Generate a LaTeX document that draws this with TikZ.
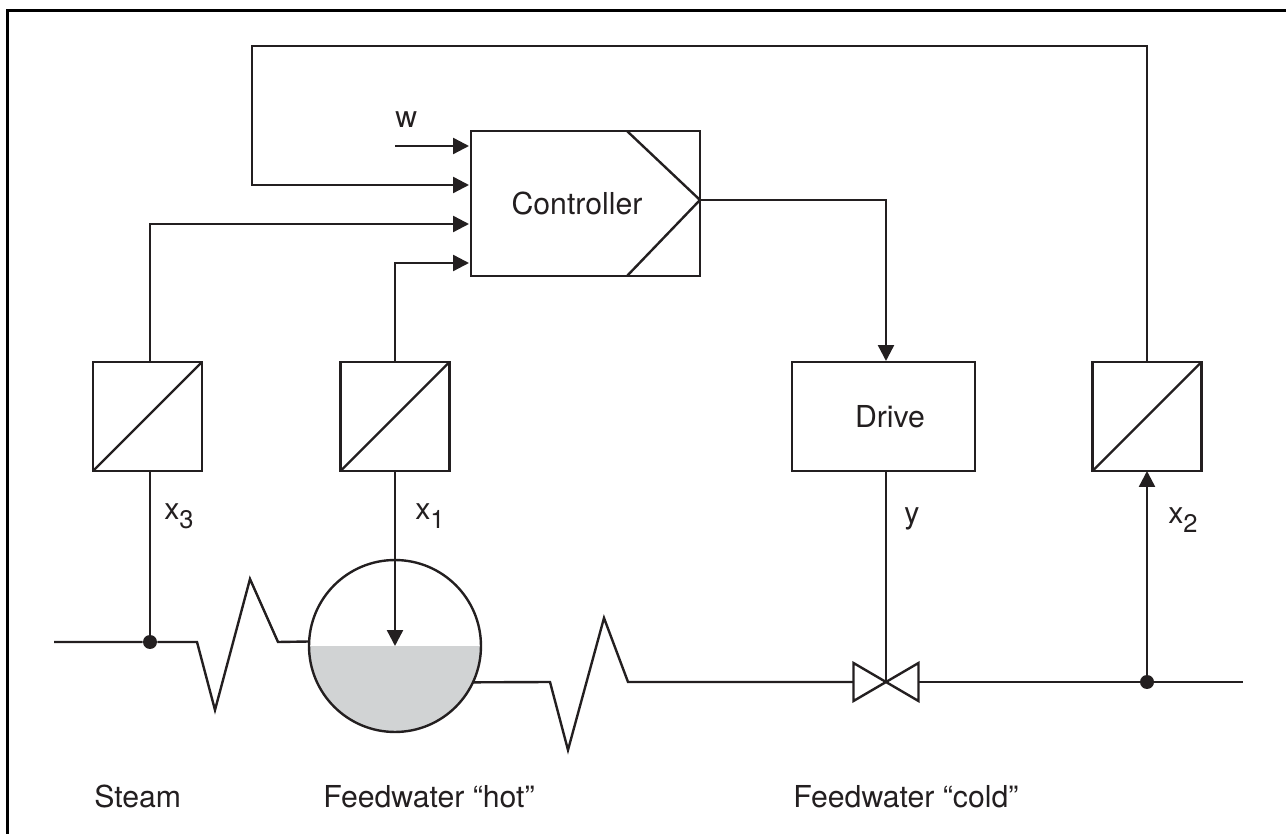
\documentclass[tikz,border=0pt]{standalone}
\usepackage{fontspec}
\setmainfont{TeX Gyre Heros}
\usetikzlibrary{
    arrows.meta,
    positioning
}

\definecolor{inkblack}{RGB}{35,31,32}
\definecolor{watergrey}{RGB}{209,211,212}

\newcommand{\subx}[1]{x\raisebox{-5pt}{\fontsize{14.5}{16}\selectfont #1}}

\begin{document}
\begin{tikzpicture}[
    x=0.02cm,
    y=-0.02cm,
    font=\fontsize{17.2}{20}\selectfont,
    text=inkblack,
    line/.style={
        draw=inkblack,
        line width=0.048cm
    },
    box/.style={
        rectangle,
        line,
        outer sep=0pt,
        inner sep=0pt,
        fill=white
    },
    convbox/.style={
        box,
        minimum width=2.18cm,
        minimum height=2.18cm,
        path picture={
            \draw[line] (path picture bounding box.south west) -- (path picture bounding box.north east);
        }
    },
    dot/.style={
        circle,
        fill=inkblack,
        inner sep=0pt,
        minimum size=0.28cm
    },
    arrow/.style={
        line,
        -{Triangle[length=3.2mm,width=3.2mm]}
    },
    note/.style={
        anchor=base west,
        inner sep=0pt
    }
]

\useasboundingbox (0,0) rectangle (1286,834);

% =========================================================
% Page frame
% =========================================================
\draw[draw=black, line width=0.066cm] (7.7,834) -- (7.7,10.7) -- (1286,10.7);

% =========================================================
% Control blocks
% =========================================================
\node[box, minimum width=4.58cm, minimum height=2.9cm] (controller) at (585.5,203.5)
{Controller\hspace*{0.34cm}};

\node[box, minimum width=3.66cm, minimum height=2.18cm] (drive) at (883.5,416.5)
{\hspace*{0.26cm}Drive};

\node[convbox] (convthree) at (147.5,416.5) {};
\node[convbox] (convone) at (395,416.5) {};
\node[convbox] (convtwo) at (1147,416.5) {};

\coordinate (ctrlout) at (700,200);
\draw[line] (627,131) -- (ctrlout) -- (627,276);

% =========================================================
% Plant
% =========================================================
\node[
    circle,
    line,
    outer sep=0pt,
    inner sep=0pt,
    minimum size=3.44cm,
    path picture={
        \fill[watergrey] (path picture bounding box.west) rectangle (path picture bounding box.south east);
    }
] (tank) at (395,646) {};

\node[minimum width=1.3cm, minimum height=0.76cm, inner sep=0pt, outer sep=0pt] (valve) at (886,682) {};
\draw[line] (valve.north west) -- (valve.south east) -- (valve.north east) -- (valve.south west) -- cycle;

\node[dot] (steamdot) at (150,642) {};
\node[dot] (colddot) at (1147,682) {};

\coordinate (steamstart) at (54,642);
\coordinate (coldend) at (1243,682);

\draw[line] (steamstart) -- (steamdot) -- (197,642) -- (215,710) -- (250,579) -- (278,642) -- (tank.177);
\draw[line] (tank.-25) -- (550,682) -- (568,750) -- (604,618) -- (628,682) -- (valve.west);
\draw[line] (valve.east) -- (colddot) -- (coldend);

% =========================================================
% Measurement lines
% =========================================================
\draw[line] (steamdot) -- (steamdot |- convthree.south);
\draw[arrow] (convone.south) -- (tank.center);
\draw[line] (valve.center) -- (valve.center |- drive.south);
\draw[arrow] (colddot) -- (convtwo.south);

% =========================================================
% Controller inputs and output
% =========================================================
\coordinate (wstart) at (395,146);
\coordinate (inw) at (469,146);
\coordinate (intwo) at (469,185);
\coordinate (inthree) at (469,224);
\coordinate (inone) at (469,263);

\draw[arrow] (wstart) -- (inw);
\draw[arrow] (convtwo.north) -- (1147,46) -- (252,46) -- (252,185) -- (intwo);
\draw[arrow] (steamdot |- convthree.north) -- (150,224) -- (inthree);
\draw[arrow] (convone.north) -- (395,263) -- (inone);
\draw[arrow] (ctrlout) -- (886,200) -- (886,361);

% =========================================================
% Labels
% =========================================================
\node[note] (wlabel) at (395,128) {w};
\node[note] (xthree) at (164,520) {\subx{3}};
\node[note] (xone) at (415,520) {\subx{1}};
\node[note] (ylabel) at (904,524) {y};
\node[note] (xtwo) at (1168,524) {\subx{2}};
\node[note] (steam) at (94,807) {Steam};
\node[note] (hot) at (323,807) {Feedwater “hot”};
\node[note] (cold) at (793,807) {Feedwater “cold”};

\end{tikzpicture}
\end{document}
